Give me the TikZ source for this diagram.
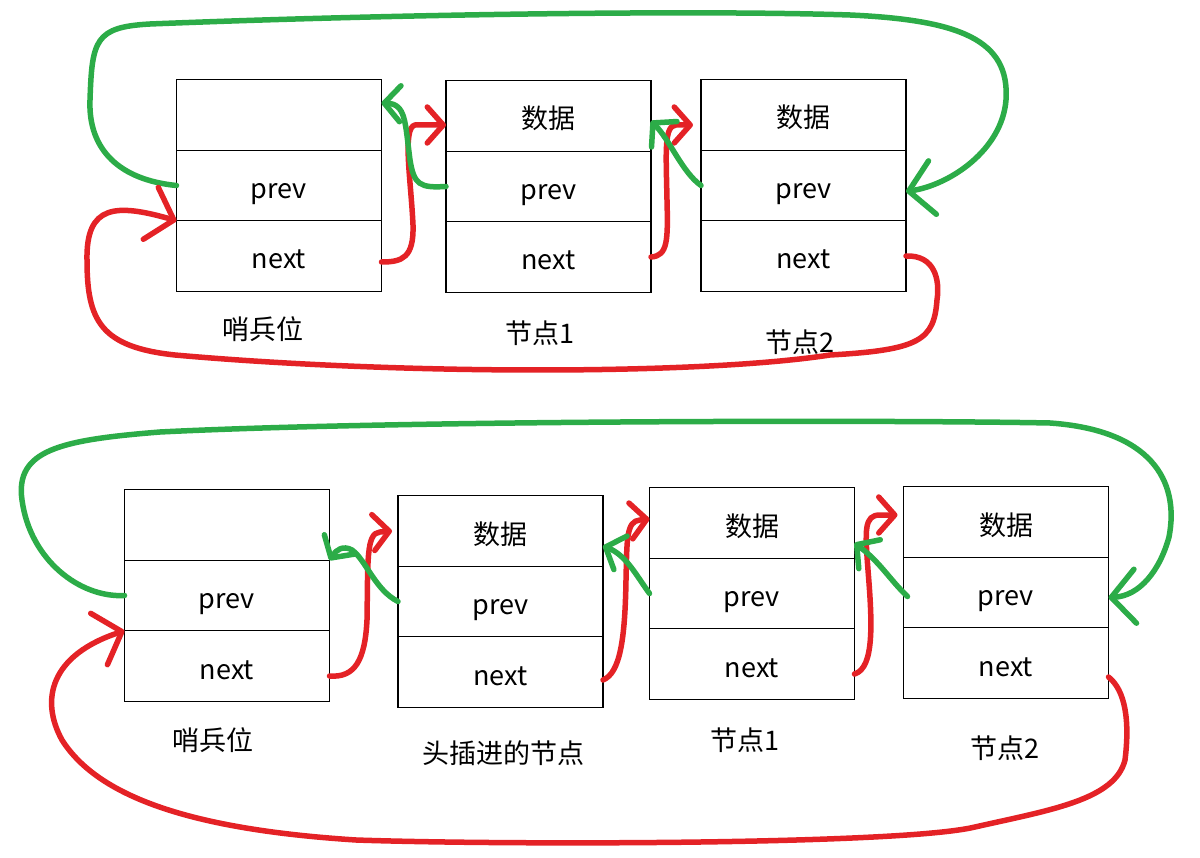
\documentclass[tikz,border=0pt]{standalone}
\usepackage{fontspec}
\newfontfamily\cjk{Noto Sans CJK SC}
\usepackage{tikz}
\usetikzlibrary{arrows.meta, positioning}
\definecolor{penred}{RGB}{228,34,38}
\definecolor{pengreen}{RGB}{44,172,72}

\begin{document}
\begin{tikzpicture}[
    x=1pt, y=-1pt,
    font=\cjk\fontsize{27}{32}\selectfont,
    cell/.style={draw, line width=1.2pt, minimum width=205pt, minimum height=70.5pt, inner sep=0pt, outer sep=0pt, text height=26pt, text depth=0pt},
    lbl/.style={inner sep=0pt},
    rpen/.style={draw=penred, line width=5.5pt, line cap=round, line join=round},
    gpen/.style={draw=pengreen, line width=5.5pt, line cap=round, line join=round},
    bigtip/.style={-{Straight Barb[round, length=24pt, width=54pt]}},
    smalltip/.style={-{Straight Barb[round, length=16pt, width=36pt]}}
]
\useasboundingbox (0,0) rectangle (1200,858);

% === TOP ROW ===
\node[cell] (topS) at (279,115) {};
\node[cell, below=0pt of topS] (topSprev) {prev};
\node[cell, below=0pt of topSprev] (topSnext) {next};

\node[cell] (topA) at (548.5,116) {数据};
\node[cell, below=0pt of topA] (topAprev) {prev};
\node[cell, below=0pt of topAprev] (topAnext) {next};

\node[cell] (topB) at (803.5,115) {数据};
\node[cell, below=0pt of topB] (topBprev) {prev};
\node[cell, below=0pt of topBprev] (topBnext) {next};

\node[lbl] (topSlbl) at (263,329) {哨兵位};
\node[lbl] (topAlbl) at (540,333) {节点1};
\node[lbl] (topBlbl) at (800,342) {节点2};

% === BOTTOM ROW ===
\node[cell] (botS) at (227,525) {};
\node[cell, below=0pt of botS] (botSprev) {prev};
\node[cell, below=0pt of botSprev] (botSnext) {next};

\node[cell] (botH) at (500.5,531) {数据};
\node[cell, below=0pt of botH] (botHprev) {prev};
\node[cell, below=0pt of botHprev] (botHnext) {next};

\node[cell] (botA) at (752,523) {数据};
\node[cell, below=0pt of botA] (botAprev) {prev};
\node[cell, below=0pt of botAprev] (botAnext) {next};

\node[cell] (botB) at (1006,522) {数据};
\node[cell, below=0pt of botB] (botBprev) {prev};
\node[cell, below=0pt of botBprev] (botBnext) {next};

\node[lbl] (botSlbl) at (213,740) {哨兵位};
\node[lbl] (botHlbl) at (503,753) {头插进的节点};
\node[lbl] (botAlbl) at (745,740) {节点1};
\node[lbl] (botBlbl) at (1005,748) {节点2};

% === TOP LINKS ===
% next pointers
\draw[rpen, smalltip] ([yshift=-6pt]topSnext.east) .. controls (402,262) and (414,258) .. (413,225)
    .. controls (411,180) and (402,128) .. (415,125) -- ([yshift=-9pt]topA.west);
\draw[rpen, smalltip] (topAnext.east) .. controls (668,256) and (668,240) .. (667,200)
    .. controls (666,150) and (664,126) .. (676,125) -- ([xshift=-8pt,yshift=-10pt]topB.west);
% prev pointers
\draw[gpen, smalltip] (topAprev.west) .. controls (420,188) and (414,185) .. (410,160)
    .. controls (405,122) and (406,104) .. ([yshift=12pt]topS.east);
\draw[gpen, smalltip] (topBprev.west) .. controls (682,172) and (670,140) .. ([yshift=-5pt]topA.east);
% wrap-around
\draw[gpen, bigtip] (topSprev.west) .. controls (120,180) and (88,150) .. (90,100)
    .. controls (92,40) and (95,27) .. (150,24) .. controls (400,14) and (700,10) .. (850,15)
    .. controls (960,20) and (1010,40) .. (1006,100) .. controls (1002,150) and (950,185) .. ([yshift=-6pt]topBprev.east);
\draw[rpen, bigtip] (topBnext.east) .. controls (935,255) and (940,280) .. (937,300)
    .. controls (934,340) and (920,350) .. (830,355) .. controls (700,375) and (400,375) .. (175,355)
    .. controls (100,347) and (87,320) .. (87,260) .. controls (86,205) and (115,203) .. (topSprev.south west);

% === BOTTOM LINKS ===
% next pointers
\draw[rpen, smalltip] ([yshift=-10pt]botSnext.east) .. controls (355,678) and (365,660) .. (367,620)
    .. controls (368,560) and (366,533) .. (380,532) -- ([xshift=-6pt]botH.west);
\draw[rpen, smalltip] ([yshift=-8pt]botHnext.east) .. controls (620,673) and (625,640) .. (626,580)
    .. controls (627,540) and (626,521) .. (640,520) -- ([yshift=4pt]botA.west);
\draw[rpen, smalltip] ([yshift=-10pt]botAnext.east) .. controls (875,668) and (872,620) .. (868,570)
    .. controls (865,530) and (864,515) .. (880,515) -- ([xshift=-6pt,yshift=7pt]botB.west);
% prev pointers
\draw[gpen, smalltip] (botHprev.west) .. controls (375,590) and (366,560) .. (352,550)
    .. controls (343,545) and (336,550) .. (botSprev.north east);
\draw[gpen, smalltip] (botAprev.west) .. controls (636,575) and (626,555) .. ([yshift=-15pt]botH.east);
\draw[gpen, smalltip] ([xshift=4pt,yshift=-4pt]botBprev.west) .. controls (890,580) and (880,562) .. ([yshift=-20pt]botA.east);
% wrap-around
\draw[gpen, bigtip] (botSprev.west) .. controls (80,598) and (30,560) .. (22,500)
    .. controls (15,450) and (60,440) .. (160,432) .. controls (400,420) and (900,420) .. (1050,423)
    .. controls (1150,430) and (1180,480) .. (1169,537) .. controls (1160,570) and (1140,596) .. ([yshift=-5pt]botBprev.east);
\draw[rpen, bigtip] ([yshift=-14pt]botBnext.east) .. controls (1125,690) and (1130,720) .. (1125,760)
    .. controls (1115,800) and (1050,810) .. (975,827) .. controls (900,845) and (500,845) .. (356,840)
    .. controls (200,830) and (100,800) .. (62,740) .. controls (40,700) and (50,655) .. (botSprev.south west);

\end{tikzpicture}
\end{document}
